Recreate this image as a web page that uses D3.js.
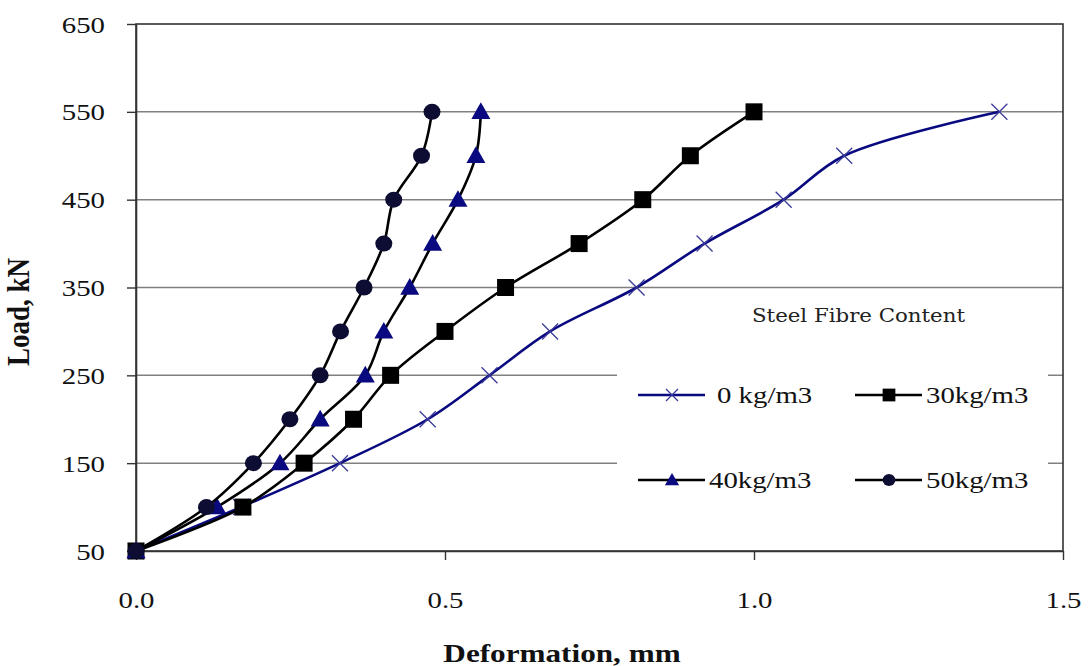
<!DOCTYPE html>
<html>
<head>
<meta charset="utf-8">
<script src="https://cdn.jsdelivr.net/npm/d3@7"></script>
<style>
  body { margin: 0; background: #fff; }
  svg { display: block; }
</style>
</head>
<body>
<script>
// load levels (kN), shared by every series
var loads = [50, 100, 150, 200, 250, 300, 350, 400, 450, 500, 550];

// deformation (mm) per steel fibre content
var def0  = [0, 0.17, 0.330, 0.472, 0.572, 0.670, 0.810, 0.920, 1.048, 1.146, 1.397];
var def30 = [0, 0.173, 0.272, 0.352, 0.412, 0.500, 0.598, 0.717, 0.820, 0.897, 1.000];
var def40 = [0, 0.131, 0.233, 0.298, 0.371, 0.401, 0.443, 0.480, 0.521, 0.550, 0.558];
var def50 = [0, 0.114, 0.190, 0.249, 0.298, 0.331, 0.369, 0.401, 0.417, 0.462, 0.479];

var seriesNames = ["0 kg/m3", "30kg/m3", "40kg/m3", "50kg/m3"];
var xTicks = [0, 0.5, 1.0, 1.5];
var yTicks = [50, 150, 250, 350, 450, 550, 650];

var W = 1090, H = 666;
var plotL = 136, plotR = 1063, plotT = 24, plotB = 551;
var SX = 1.2; // the source picture is stretched sideways

var svg = d3.select("body").append("svg")
  .attr("width", W).attr("height", H)
  .style("font-family", "'Liberation Serif', 'Times New Roman', serif");

svg.append("rect").attr("width", W).attr("height", H).attr("fill", "#fff");

var x = d3.scaleLinear().domain([0, 1.5]).range([plotL, plotR]);
var y = d3.scaleLinear().domain([50, 650]).range([plotB, plotT]);

// gridlines
svg.append("g").selectAll("line")
  .data(yTicks.filter(function(d){ return d > 50 && d < 650; }))
  .enter().append("line")
  .attr("x1", plotL).attr("x2", plotR)
  .attr("y1", function(d){ return y(d); }).attr("y2", function(d){ return y(d); })
  .attr("stroke", "#808080").attr("stroke-width", 1.5);

// frame
svg.append("rect")
  .attr("x", plotL).attr("y", plotT)
  .attr("width", plotR - plotL).attr("height", plotB - plotT)
  .attr("fill", "none").attr("stroke", "#333").attr("stroke-width", 1.6);

// axes
var yAxis = svg.append("g").attr("transform", "translate(" + plotL + ",0)")
  .call(d3.axisLeft(y).tickValues(yTicks).tickSize(9).tickSizeOuter(0).tickFormat(d3.format("d")));
var xAxis = svg.append("g").attr("transform", "translate(0," + plotB + ")")
  .call(d3.axisBottom(x).tickValues(xTicks).tickSize(9).tickSizeOuter(0).tickFormat(d3.format(".1f")));

[yAxis, xAxis].forEach(function(a){
  a.select(".domain").attr("stroke", "#333").attr("stroke-width", 1.6);
  a.selectAll(".tick line").attr("stroke", "#333").attr("stroke-width", 1.4);
  a.selectAll("text").attr("font-family", "'Liberation Serif', serif")
    .attr("font-size", 24).attr("fill", "#111").attr("x", 0).attr("y", 0).attr("dy", null);
});
yAxis.selectAll("text").attr("text-anchor", "end")
  .attr("transform", "translate(-31,8) scale(" + SX + ",1)");
xAxis.selectAll("text").attr("text-anchor", "middle")
  .attr("transform", "translate(0,57) scale(" + SX + ",1)");

// axis titles
svg.append("text")
  .attr("transform", "translate(562,662) scale(" + SX + ",1)")
  .attr("text-anchor", "middle").attr("font-weight", "bold").attr("font-size", 26)
  .attr("fill", "#111").text("Deformation, mm");
svg.append("text")
  .attr("transform", "translate(29,312) scale(" + SX + ",1) rotate(-90)")
  .attr("text-anchor", "middle").attr("font-weight", "bold").attr("font-size", 27)
  .attr("fill", "#111").text("Load, kN");

// series
var series = [
  { name: seriesNames[0], xs: def0,  line: "#0a0a80", marker: "cross" },
  { name: seriesNames[1], xs: def30, line: "#000",    marker: "square",   fill: "#000" },
  { name: seriesNames[2], xs: def40, line: "#000",    marker: "triangle", fill: "#0a0a80" },
  { name: seriesNames[3], xs: def50, line: "#000",    marker: "circle",   fill: "#0d0d33" }
];

var line = d3.line()
  .x(function(d){ return x(d[0]); })
  .y(function(d){ return y(d[1]); })
  .curve(d3.curveCatmullRom.alpha(0.5));

function drawMarker(g, type, fill, cx, cy, scale) {
  var s = scale || 1;
  if (type === "cross") {
    var r = 8 * s;
    g.append("path")
      .attr("d", "M" + (cx - r) + "," + (cy - r) + "L" + (cx + r) + "," + (cy + r) +
                 "M" + (cx - r) + "," + (cy + r) + "L" + (cx + r) + "," + (cy - r))
      .attr("stroke", "#3a3a9a").attr("stroke-width", 1.3).attr("fill", "none");
  } else if (type === "square") {
    var h = 8.5 * s;
    g.append("rect").attr("x", cx - h).attr("y", cy - h)
      .attr("width", 2 * h).attr("height", 2 * h).attr("fill", fill);
  } else if (type === "triangle") {
    var t = 9.5 * s;
    g.append("path")
      .attr("d", "M" + cx + "," + (cy - t) + "L" + (cx + t) + "," + (cy + t * 0.75) +
                 "L" + (cx - t) + "," + (cy + t * 0.75) + "Z")
      .attr("fill", fill);
  } else {
    g.append("ellipse").attr("cx", cx).attr("cy", cy)
      .attr("rx", 8.5 * s).attr("ry", 8 * s).attr("fill", fill);
  }
}

series.forEach(function(s){
  var pts = s.xs.map(function(v, i){ return [v, loads[i]]; });
  var g = svg.append("g");
  g.append("path").attr("d", line(pts))
    .attr("fill", "none").attr("stroke", s.line).attr("stroke-width", 2.6);
  pts.forEach(function(p){ drawMarker(g, s.marker, s.fill, x(p[0]), y(p[1]), 1); });
});

// legend
var lg = svg.append("g");
lg.append("rect").attr("x", 617).attr("y", 345).attr("width", 431).attr("height", 160).attr("fill", "#fff");
lg.append("text").attr("x", 752).attr("y", 322)
  .attr("font-family", "'DejaVu Serif', serif").attr("font-size", 19)
  .attr("textLength", 213).attr("lengthAdjust", "spacingAndGlyphs")
  .attr("fill", "#222").text("Steel Fibre Content");

var legendPos = [
  { x0: 638, y0: 395 }, { x0: 855, y0: 395 },
  { x0: 638, y0: 480 }, { x0: 855, y0: 480 }
];
series.forEach(function(s, i){
  var p = legendPos[i];
  lg.append("line").attr("x1", p.x0).attr("x2", p.x0 + 67)
    .attr("y1", p.y0).attr("y2", p.y0)
    .attr("stroke", s.line).attr("stroke-width", 2.6);
  drawMarker(lg, s.marker, s.fill, p.x0 + 34, p.y0, 0.75);
  lg.append("text")
    .attr("transform", "translate(" + (p.x0 + (i === 0 ? 79 : 71)) + "," + (p.y0 + 8) + ") scale(" + SX + ",1)")
    .attr("font-size", 24).attr("fill", "#111").text(s.name);
});
</script>
</body>
</html>
